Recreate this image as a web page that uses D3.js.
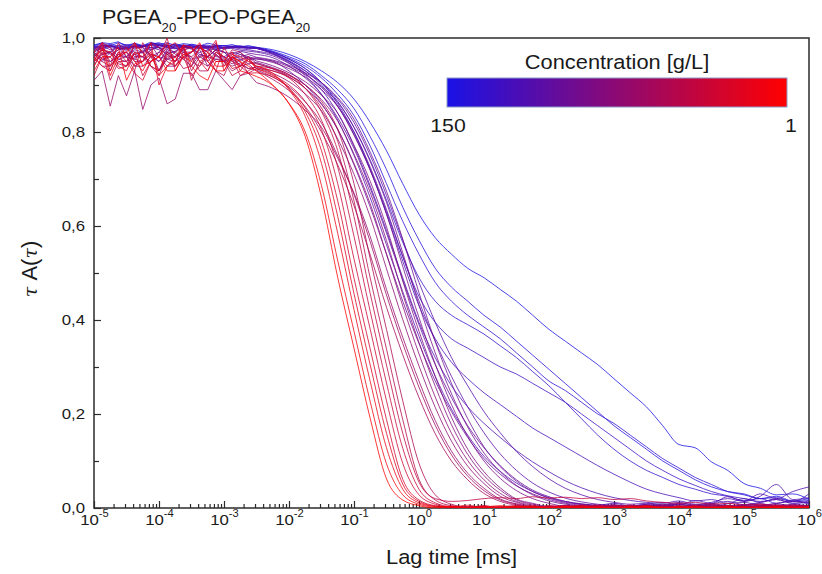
<!DOCTYPE html>
<html>
<head>
<meta charset="utf-8">
<script src="https://cdn.jsdelivr.net/npm/d3@7"></script>
<style>
    body { margin: 0; background: #fff; }
    svg text { font-family: "Liberation Sans", Arial, sans-serif; fill: #1a1a1a; }
</style>
</head>
<body>
<div id="chart"></div>
<script>
//Datos: tiempo de retardo (exponente en base 10, ms)
let lagExponent = [-5,-4.875,-4.75,-4.625,-4.5,-4.375,-4.25,-4.125,-4,-3.875,-3.75,-3.625,-3.5,-3.375,-3.25,-3.125,-3,-2.875,-2.75,-2.625,-2.5,
    -2.25,-2,-1.75,-1.5,-1.25,-1,-0.75,-0.5,-0.25,0,0.25,0.5,0.75,1,1.25,1.5,1.75,2,2.25,2.5,2.75,3,3.25,3.5,3.75,4,4.25,4.5,4.75,5,5.25,5.5,5.75,6];
//Hasta este índice la curva es ruido de meseta
let plateauEnd = 20;

//Concentración de cada curva [g/L], de azul a rojo
let concentration = [150,120,100,85,70,58,50,44, 39,35,31,27, 25,22,19,17,15,13,12,10,8.5,7, 6,5,4,3.5,3,2.5,2,1.6,1.3,1];

//tau A(tau) de cada curva, mismo orden que concentration
let tauA = [
    [0.985,0.99,0.988,0.992,0.982,0.989,0.984,0.991,0.986,0.99,0.984,0.988,0.986,0.983,0.989,0.985,0.983,0.986,0.981,0.984,0.98,
     0.975,0.965,0.95,0.93,0.905,0.87,0.82,0.76,0.69, 0.625,0.575,0.54,0.51,0.49,0.465,0.44,0.41,0.38,0.355, 0.33,0.305,0.275,0.245,0.215,0.175,0.135,0.128,0.098,0.08, 0.052,0.042,0.028,0.03,0.018],
    [0.984,0.989,0.983,0.99,0.985,0.988,0.982,0.987,0.99,0.984,0.986,0.981,0.987,0.983,0.985,0.98,0.984,0.982,0.983,0.981,0.98,
     0.972,0.96,0.945,0.92,0.89,0.85,0.79,0.72,0.64, 0.57,0.51,0.47,0.44,0.41,0.385,0.355,0.325,0.295,0.265, 0.235,0.205,0.175,0.15,0.125,0.10,0.08,0.06,0.045,0.035, 0.03,0.02,0.025,0.015,0.02],
    [0.983,0.978,0.987,0.982,0.98,0.986,0.983,0.979,0.985,0.981,0.988,0.983,0.98,0.985,0.981,0.984,0.979,0.982,0.98,0.979,0.978,
     0.97,0.957,0.94,0.915,0.88,0.835,0.77,0.69,0.61, 0.54,0.48,0.44,0.41,0.385,0.36,0.33,0.30,0.27,0.25, 0.225,0.2,0.18,0.155,0.13,0.105,0.085,0.065,0.05,0.035, 0.028,0.02,0.022,0.014,0.016],
    [0.982,0.987,0.98,0.984,0.986,0.981,0.984,0.988,0.988,0.983,0.981,0.985,0.984,0.98,0.98,0.984,0.984,0.98,0.979,0.981,0.98,
     0.97,0.955,0.935,0.905,0.865,0.81,0.74,0.655,0.565, 0.49,0.44,0.41,0.39,0.37,0.345,0.32,0.29,0.26,0.225, 0.19,0.155,0.125,0.10,0.08,0.065,0.05,0.04,0.03,0.025, 0.015,0.02,0.01,0.015,0.01],
    [0.98,0.984,0.985,0.978,0.979,0.984,0.983,0.987,0.986,0.981,0.98,0.983,0.984,0.98,0.978,0.982,0.98,0.983,0.982,0.979,0.978,
     0.968,0.952,0.93,0.90,0.855,0.795,0.72,0.63,0.535, 0.45,0.395,0.36,0.34,0.32,0.30,0.285,0.265,0.245,0.225, 0.20,0.175,0.15,0.125,0.10,0.08,0.062,0.048,0.035,0.026, 0.02,0.014,0.018,0.01,0.012],
    [0.981,0.977,0.984,0.98,0.978,0.983,0.983,0.979,0.98,0.984,0.985,0.98,0.979,0.983,0.982,0.978,0.98,0.982,0.983,0.98,0.98,
     0.97,0.955,0.935,0.905,0.86,0.80,0.72,0.625,0.525, 0.43,0.36,0.31,0.275,0.245,0.22,0.195,0.17,0.15,0.13, 0.11,0.09,0.072,0.055,0.04,0.03,0.022,0.015,0.018,0.01, 0.02,0.012,0.02,0.014,0.03],
    [0.979,0.984,0.983,0.978,0.977,0.982,0.982,0.986,0.985,0.98,0.978,0.981,0.983,0.978,0.98,0.983,0.977,0.98,0.981,0.979,0.978,
     0.967,0.95,0.925,0.89,0.84,0.77,0.685,0.59,0.49, 0.395,0.32,0.26,0.215,0.18,0.15,0.122,0.098,0.077,0.058, 0.043,0.031,0.022,0.016,0.012,0.01,0.015,0.008,0.012,0.02, 0.014,0.025,0.05,0.018,0.022],
    [0.978,0.974,0.982,0.979,0.976,0.981,0.981,0.985,0.984,0.979,0.977,0.981,0.982,0.977,0.979,0.983,0.976,0.979,0.98,0.977,0.978,
     0.966,0.947,0.92,0.88,0.825,0.75,0.66,0.56,0.46, 0.365,0.28,0.21,0.155,0.11,0.078,0.053,0.035,0.022,0.014, 0.009,0.006,0.01,0.004,0.008,0.012,0.006,0.016,0.01,0.024, 0.015,0.03,0.02,0.035,0.045],
    [0.978,0.983,0.975,0.98,0.984,0.977,0.981,0.986,0.979,0.976,0.982,0.985,0.978,0.98,0.983,0.976,0.979,0.981,0.977,0.975,0.972,
     0.965,0.95,0.93,0.905,0.87,0.82,0.75,0.665,0.57, 0.48,0.395,0.32,0.26,0.205,0.16,0.12,0.088,0.062,0.042, 0.028,0.018,0.012,0.008,0.01,0.006,0.012,0.005,0.009,0.014, 0.007,0.012,0.018,0.01,0.015],
    [0.975,0.98,0.984,0.977,0.974,0.982,0.979,0.975,0.983,0.986,0.978,0.974,0.98,0.984,0.977,0.975,0.981,0.978,0.974,0.972,0.97,
     0.962,0.946,0.924,0.895,0.855,0.80,0.725,0.635,0.535, 0.44,0.355,0.28,0.215,0.16,0.115,0.08,0.053,0.034,0.021, 0.013,0.008,0.005,0.004,0.008,0.004,0.01,0.006,0.003,0.009, 0.012,0.006,0.01,0.015,0.008],
    [0.97,0.978,0.965,0.975,0.982,0.97,0.968,0.98,0.975,0.966,0.972,0.984,0.976,0.969,0.975,0.98,0.97,0.966,0.972,0.968,0.965,
     0.958,0.94,0.915,0.88,0.83,0.765,0.68,0.585,0.485, 0.39,0.305,0.235,0.175,0.128,0.09,0.06,0.038,0.024,0.014, 0.008,0.005,0.003,0.004,0.006,0.003,0.008,0.004,0.007,0.002, 0.006,0.009,0.004,0.007,0.005],
    [0.965,0.95,0.97,0.98,0.96,0.955,0.975,0.965,0.95,0.97,0.985,0.97,0.955,0.96,0.975,0.965,0.95,0.96,0.97,0.955,0.955,
     0.95,0.93,0.9,0.86,0.805,0.73,0.64,0.54,0.44, 0.35,0.27,0.205,0.15,0.105,0.072,0.047,0.03,0.018,0.01, 0.006,0.004,0.002,0.004,0.003,0.006,0.002,0.005,0.008,0.003, 0.006,0.002,0.005,0.007,0.003],
    [0.98,0.965,0.97,0.985,0.98,0.96,0.96,0.975,0.98,0.97,0.97,0.985,0.98,0.965,0.96,0.975,0.97,0.955,0.96,0.965,0.959,
     0.953,0.942,0.926,0.905,0.873,0.827,0.757,0.674,0.572, 0.458,0.354,0.265,0.19,0.13,0.088,0.057,0.035,0.021,0.012, 0.008,0.005,0.007,0.002,0.005,0.008,0.004,0.006,0.01,0.004, 0.007,0.005,0.009,0.004,0.006],
    [0.97,0.985,0.98,0.96,0.96,0.975,0.97,0.99,0.98,0.965,0.96,0.97,0.97,0.985,0.98,0.96,0.96,0.97,0.965,0.955,0.958,
     0.951,0.939,0.922,0.897,0.863,0.81,0.737,0.65,0.543, 0.432,0.33,0.243,0.172,0.117,0.077,0.048,0.028,0.015,0.008, 0.004,0.002,0.006,0.003,0.001,0.005,0.008,0.003,0.006,0.002, 0.005,0.009,0.003,0.006,0.004],
    [0.97,0.955,0.96,0.975,0.98,0.965,0.96,0.95,0.97,0.985,0.965,0.955,0.97,0.98,0.96,0.975,0.97,0.955,0.965,0.96,0.956,
     0.948,0.935,0.917,0.89,0.854,0.793,0.718,0.626,0.514, 0.405,0.306,0.22,0.152,0.10,0.063,0.037,0.02,0.01,0.004, 0.004,0.002,0.005,0,0.003,0.006,0.002,0.004,0.001,0.005, 0.003,0.006,0.002,0.004,0.001],
    [0.96,0.975,0.97,0.955,0.95,0.965,0.97,0.985,0.96,0.955,0.96,0.98,0.98,0.96,0.95,0.97,0.957,0.965,0.955,0.96,0.951,
     0.941,0.926,0.907,0.878,0.84,0.772,0.695,0.598,0.483, 0.376,0.28,0.193,0.125,0.077,0.043,0.019,0.01,0.003,0.005, 0.002,0.004,0,0.003,0.006,0.001,0.004,0.002,0.005,0.003, 0,0.004,0.007,0.002,0.004],
    [0.97,0.955,0.95,0.965,0.96,0.98,0.98,0.96,0.95,0.975,0.97,0.955,0.94,0.965,0.96,0.975,0.96,0.95,0.955,0.945,0.948,
     0.937,0.922,0.90,0.869,0.823,0.753,0.671,0.569,0.455, 0.352,0.259,0.177,0.114,0.069,0.038,0.017,0.008,0.002,0.002, 0.005,0.001,0.004,0.002,0.006,0,0.003,0.005,0.002,0.004, 0,0.003,0.006,0.002,0.004],
    [0.96,0.975,0.95,0.96,0.97,0.955,0.95,0.965,0.96,0.94,0.94,0.96,0.97,0.985,0.96,0.955,0.955,0.945,0.952,0.96,0.946,
     0.934,0.917,0.893,0.859,0.806,0.733,0.647,0.54,0.43, 0.328,0.236,0.159,0.101,0.06,0.031,0.014,0.006,0.0015,0.004, 0.001,0.003,0.006,0.002,0,0.004,0.003,0.007,0.001,0.004, 0.002,0.005,0,0.003,0.002],
    [0.95,0.965,0.97,0.955,0.96,0.94,0.94,0.96,0.97,0.955,0.95,0.965,0.96,0.975,0.94,0.955,0.95,0.94,0.947,0.935,0.938,
     0.925,0.907,0.881,0.845,0.785,0.71,0.619,0.509,0.401, 0.302,0.214,0.142,0.089,0.052,0.025,0.012,0.004,0.002,0.005, 0,0.003,0.001,0.004,0.002,0.006,0,0.003,0.001,0.004, 0.002,0,0.005,0.001,0.003],
    [0.91,0.93,0.855,0.92,0.877,0.93,0.848,0.90,0.915,0.86,0.87,0.925,0.925,0.89,0.89,0.93,0.91,0.89,0.92,0.925,0.905,
     0.893,0.874,0.846,0.81,0.744,0.67,0.577,0.465,0.363, 0.27,0.186,0.121,0.074,0.042,0.019,0.009,0.003,0,0.004, 0.002,0.006,0.001,0.003,0.005,0,0.002,0.004,0.001,0.003, 0,0.005,0.002,0,0.003],
    [0.96,0.94,0.94,0.965,0.97,0.95,0.95,0.975,0.93,0.96,0.96,0.975,0.98,0.95,0.94,0.965,0.949,0.955,0.943,0.935,0.932,
     0.917,0.896,0.864,0.819,0.749,0.667,0.566,0.453,0.35, 0.257,0.176,0.113,0.068,0.037,0.017,0.008,0.002,0.004,0.002, 0,0.003,0.005,0.001,0.004,0.002,0,0.003,0.006,0.002, 0,0.004,0.001,0.003,0],
    [0.95,0.965,0.97,0.945,0.94,0.96,0.96,0.94,0.93,0.955,0.97,0.98,0.95,0.94,0.96,0.975,0.95,0.93,0.94,0.945,0.93,
     0.912,0.888,0.854,0.80,0.73,0.643,0.538,0.427,0.326, 0.235,0.158,0.10,0.06,0.031,0.014,0.006,0.002,0.003,0, 0.004,0.002,0.005,0.001,0.003,0,0.004,0.002,0,0.003, 0.001,0.004,0,0.002,0.003],
    [0.96,0.985,0.93,0.97,0.97,0.94,0.95,0.99,0.98,0.95,0.94,0.97,0.96,0.93,0.93,0.965,0.95,0.975,0.97,0.95,0.945,
     0.935,0.92,0.90,0.865,0.805,0.69,0.53,0.38,0.228, 0.095,0.028,0.008,0.002,0.004,0.001,0.003,0,0.005,0.002, 0.004,0,0.003,0.006,0.002,0.004,0.001,0.003,0,0.005, 0.002,0,0.004,0.001,0.003],
    [0.94,0.97,0.91,0.95,0.95,0.985,0.97,0.94,0.92,0.965,0.95,0.98,0.93,0.96,0.96,0.93,0.92,0.96,0.94,0.925,0.935,
     0.93,0.917,0.893,0.851,0.78,0.653,0.489,0.338,0.188, 0.061,0.017,0.005,0.002,0,0.003,0.005,0.001,0,0.004, 0.002,0,0.003,0.006,0.001,0,0.002,0.004,0,0.003, 0.001,0,0.002,0.004,0],
    [0.97,0.95,0.94,0.99,0.96,0.93,0.99,0.96,0.93,0.97,0.96,0.935,0.94,0.98,0.97,0.95,0.95,0.92,0.93,0.955,0.94,
     0.935,0.922,0.893,0.843,0.76,0.62,0.456,0.304,0.159, 0.055,0.02,0.014,0.016,0.02,0.022,0.02,0.024,0.021,0.023, 0.02,0.022,0.018,0.02,0.015,0.012,0.01,0.012,0.008,0.01, 0.006,0.008,0.005,0.006,0.004],
    [0.92,0.96,0.96,0.935,0.94,0.99,0.97,0.94,0.93,0.97,0.95,0.98,0.91,0.95,0.96,0.99,0.94,0.955,0.92,0.93,0.94,
     0.93,0.915,0.88,0.825,0.725,0.578,0.418,0.266,0.127, 0.04,0.011,0.003,0.002,0.005,0,0.003,0.001,0.004,0, 0.002,0.006,0.001,0,0.003,0,0.002,0.004,0,0.001, 0.003,0,0.005,0.001,0],
    [0.95,0.99,0.98,0.95,0.94,0.97,0.92,0.95,0.96,1.0,0.93,0.96,0.97,0.985,0.95,0.93,0.98,0.95,0.94,0.96,0.935,
     0.92,0.90,0.865,0.805,0.69,0.53,0.38,0.228,0.095, 0.028,0.008,0.002,0.003,0.001,0,0.004,0.002,0,0.003, 0.006,0.001,0,0.003,0.002,0,0.004,0,0.002,0.005, 0,0.001,0.003,0,0.002],
    [0.96,0.94,0.93,0.97,0.95,0.925,0.91,0.95,0.96,0.99,0.94,0.96,0.92,0.94,0.97,0.995,0.93,0.96,0.95,0.925,0.926,
     0.917,0.893,0.851,0.78,0.653,0.489,0.338,0.188,0.061, 0.017,0.005,0.002,0,0.004,0.001,0.003,0,0.002,0.005, 0,0.002,0.001,0,0.003,0,0.004,0.001,0,0.002, 0.003,0,0.001,0.004,0],
    [0.94,0.975,0.97,0.94,0.93,0.97,0.96,0.99,0.90,0.94,0.95,0.985,0.98,0.95,0.93,0.97,0.96,0.935,0.94,0.955,0.934,
     0.922,0.893,0.843,0.76,0.62,0.456,0.304,0.159,0.051, 0.014,0.004,0.002,0.006,0,0.003,0.001,0,0.004,0.002, 0,0.003,0,0.001,0.005,0,0.002,0,0.003,0.001, 0,0.004,0,0.002,0],
    [0.97,0.99,0.94,0.96,0.98,0.95,0.93,0.965,0.96,0.98,0.99,0.96,0.95,0.98,0.97,0.94,0.94,0.965,0.96,0.95,0.94,
     0.925,0.89,0.833,0.733,0.584,0.422,0.269,0.128,0.04, 0.011,0.003,0.001,0,0.003,0,0.002,0.005,0,0.001, 0.003,0,0.002,0,0.004,0.001,0,0.002,0,0.003, 0,0.001,0.002,0,0.003],
    [0.93,0.96,0.96,0.98,0.91,0.945,0.95,0.97,0.92,0.94,0.96,0.985,0.94,0.92,0.91,0.95,0.95,0.97,0.93,0.925,0.918,
     0.899,0.861,0.80,0.686,0.526,0.376,0.226,0.094,0.028, 0.008,0.002,0.004,0,0.002,0.005,0,0.003,0,0.002, 0.004,0,0.001,0.003,0,0.002,0,0.004,0,0.002, 0.001,0,0.003,0,0.002],
    [0.95,0.98,0.92,0.96,0.97,0.99,0.94,0.95,0.96,0.93,0.93,0.965,0.97,0.99,0.95,0.93,0.93,0.96,0.95,0.94,0.93,
     0.90,0.86,0.79,0.66,0.49,0.34,0.19,0.062,0.017, 0.005,0,0.003,0,0.002,0,0.004,0.001,0,0.003, 0,0.002,0,0.001,0.003,0,0.002,0,0.001,0, 0.002,0,0.001,0,0.002]
];

//Etiquetas de ejes
let xTickExponents = [-5,-4,-3,-2,-1,0,1,2,3,4,5,6];
let yTicks = [0, 0.2, 0.4, 0.6, 0.8, 1.0];
let yMinorTicks = [0.1, 0.3, 0.5, 0.7, 0.9];
let legendLabels = ['150', '1'];

tauA.forEach(function(s, i) { if (s.length != lagExponent.length) console.warn('serie ' + i + ': ' + s.length); });

//Creación del SVG
let width = 822, height = 574;
let margin = {top: 38, right: 13, bottom: 66, left: 94};
let plotW = width - margin.left - margin.right,
    plotH = height - margin.top - margin.bottom;

let svg = d3.select('#chart').append('svg')
    .attr('width', width)
    .attr('height', height)
    .style('background', '#fff');

let chart = svg.append('g')
    .attr('transform', 'translate(' + margin.left + ',' + margin.top + ')');

//Escalas
let x = d3.scaleLog().domain([1e-5, 1e6]).range([0, plotW]);
let y = d3.scaleLinear().domain([0, 1]).range([plotH, 0]);
let colorPos = d3.scaleLog().domain([150, 1]).range([0, 1]);
let colorInterp = d3.interpolateRgb('#1a12e6', '#ff0000');
let colorOf = function(c) { return colorInterp(colorPos(c)); };

let axisColor = '#2b2b2b';
let stretch = 'scale(1.12,1)';

//Marco
chart.append('rect')
    .attr('width', plotW)
    .attr('height', plotH)
    .attr('fill', 'none')
    .attr('stroke', axisColor)
    .attr('stroke-width', 1.5);

//Eje X
let xMajor = xTickExponents.map(function(e) { return Math.pow(10, e); });
let xMinor = [];
xTickExponents.slice(0, -1).forEach(function(e) {
    for (let m = 2; m < 10; m++) xMinor.push(m * Math.pow(10, e));
});

chart.append('g')
    .attr('transform', 'translate(0,' + plotH + ')')
    .call(d3.axisBottom(x).tickValues(xMinor).tickSizeInner(-4).tickSizeOuter(0).tickFormat(''))
    .call(function(g) { g.select('.domain').remove(); });

chart.append('g')
    .attr('transform', 'translate(0,' + plotH + ')')
    .call(d3.axisBottom(x).tickValues(xMajor).tickSizeInner(-7).tickSizeOuter(0).tickPadding(6).tickFormat(''))
    .call(function(g) {
        g.select('.domain').remove();
        g.selectAll('.tick text')
            .attr('font-size', 15)
            .attr('transform', stretch)
            .each(function(d) {
                let t = d3.select(this);
                t.append('tspan').text('10');
                t.append('tspan').attr('font-size', 10).attr('dy', '-0.75em').text(Math.round(Math.log10(d)));
            });
    });

//Eje Y
chart.append('g')
    .call(d3.axisLeft(y).tickValues(yMinorTicks).tickSizeInner(-5).tickSizeOuter(0).tickFormat(''))
    .call(function(g) { g.select('.domain').remove(); });

chart.append('g')
    .call(d3.axisLeft(y).tickValues(yTicks).tickSizeInner(-7).tickSizeOuter(0).tickPadding(8)
        .tickFormat(function(d) { return d3.format('.1f')(d).replace('.', ','); }))
    .call(function(g) {
        g.select('.domain').remove();
        g.selectAll('.tick text').attr('font-size', 15).attr('transform', stretch);
    });

chart.selectAll('.tick line').attr('stroke', axisColor).attr('stroke-width', 1.2);
chart.selectAll('.tick text').attr('fill', '#1a1a1a');

//Curvas: meseta ruidosa en tramos rectos, caída suavizada
chart.append('clipPath').attr('id', 'clip')
    .append('rect').attr('x', 0).attr('y', -2).attr('width', plotW).attr('height', plotH + 2);

let lineNoise = d3.line()
    .x(function(d) { return x(Math.pow(10, d.e)); })
    .y(function(d) { return y(d.v); });
let lineDecay = d3.line()
    .x(function(d) { return x(Math.pow(10, d.e)); })
    .y(function(d) { return y(d.v); })
    .curve(d3.curveMonotoneX);

let curves = chart.append('g')
    .attr('clip-path', 'url(#clip)')
    .selectAll('.curve')
    .data(tauA)
    .enter()
    .append('g')
    .attr('class', 'curve')
    .attr('fill', 'none')
    .attr('stroke', function(d, i) { return colorOf(concentration[i]); })
    .attr('stroke-width', 1)
    .attr('stroke-opacity', 0.78);

curves.append('path')
    .attr('d', function(s) {
        return lineNoise(s.slice(0, plateauEnd + 1).map(function(v, i) { return {e: lagExponent[i], v: v}; }));
    });
curves.append('path')
    .attr('d', function(s) {
        return lineDecay(s.slice(plateauEnd).map(function(v, i) { return {e: lagExponent[i + plateauEnd], v: v}; }));
    });

//Leyenda de color
let legend = {x: 447, y: 78, w: 340, h: 29};
let grad = svg.append('defs').append('linearGradient').attr('id', 'concGrad');
grad.selectAll('stop')
    .data(d3.range(0, 1.001, 0.1))
    .enter()
    .append('stop')
    .attr('offset', function(d) { return d * 100 + '%'; })
    .attr('stop-color', function(d) { return colorInterp(d); });

svg.append('rect')
    .attr('x', legend.x).attr('y', legend.y)
    .attr('width', legend.w).attr('height', legend.h)
    .attr('fill', 'url(#concGrad)')
    .attr('stroke', '#8d9ac6')
    .attr('stroke-width', 1);

svg.append('text')
    .attr('transform', 'translate(' + (legend.x + legend.w / 2) + ',69) ' + stretch)
    .attr('text-anchor', 'middle')
    .attr('font-size', 19.5)
    .text('Concentration [g/L]');

svg.selectAll('.legend-label')
    .data(legendLabels)
    .enter()
    .append('text')
    .attr('class', 'legend-label')
    .attr('transform', function(d, i) { return 'translate(' + (i == 0 ? legend.x + 1 : legend.x + legend.w + 4) + ',132) ' + stretch; })
    .attr('text-anchor', 'middle')
    .attr('font-size', 19)
    .text(function(d) { return d; });

//Título
let title = svg.append('text')
    .attr('transform', 'translate(102,24) scale(1.1,1)')
    .attr('font-size', 19.5);
title.append('tspan').text('PGEA');
title.append('tspan').attr('font-size', 12).attr('dy', 7.5).text('20');
title.append('tspan').attr('dy', -7.5).text('-PEO-PGEA');
title.append('tspan').attr('font-size', 12).attr('dy', 7.5).text('20');

//Títulos de ejes
svg.append('text')
    .attr('transform', 'translate(' + (margin.left + plotW / 2) + ',564) ' + stretch)
    .attr('text-anchor', 'middle')
    .attr('font-size', 19.5)
    .text('Lag time [ms]');

let yLabel = svg.append('text')
    .attr('transform', 'translate(37,' + (margin.top + plotH / 2 - 4) + ') rotate(-90)')
    .attr('text-anchor', 'middle')
    .attr('font-size', 22);
yLabel.append('tspan').attr('font-style', 'italic').attr('font-family', 'DejaVu Serif, serif').attr('font-size', 19).text('τ');
yLabel.append('tspan').text(' A(');
yLabel.append('tspan').attr('font-style', 'italic').attr('font-family', 'DejaVu Serif, serif').attr('font-size', 19).text('τ');
yLabel.append('tspan').text(')');
</script>
</body>
</html>
